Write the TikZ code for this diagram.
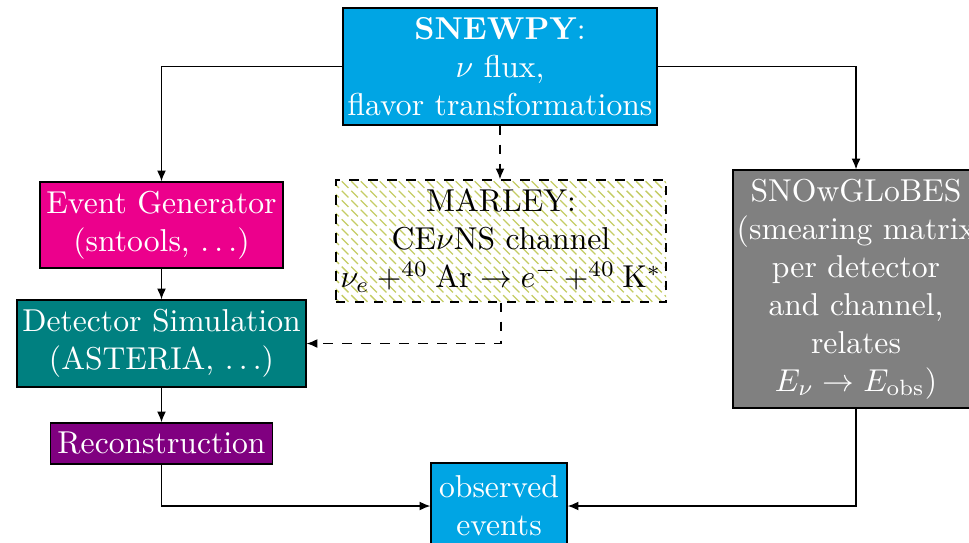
\documentclass[tikz,border=0pt]{standalone}
\usetikzlibrary{patterns,arrows.meta}
\definecolor{snecyan}{RGB}{0,165,228}
\definecolor{evmag}{RGB}{236,0,140}
\definecolor{dsteal}{RGB}{0,128,128}
\definecolor{recopurp}{RGB}{128,0,128}
\definecolor{snowgray}{RGB}{128,128,128}
\definecolor{hatchcol}{RGB}{196,204,100}
\begin{document}
\begin{tikzpicture}[x=0.316pt,y=-0.316pt,
  box/.style={draw=black,line width=0.4pt,text=white,align=center,inner sep=0pt},
  conn/.style={line width=0.4pt,-{Latex[length=3.4pt,width=2.8pt]}},
  dconn/.style={conn,dashed}]
\clip (0,0) rectangle (969,542);
\useasboundingbox (0,0) rectangle (969,542);
\node[box,fill=snecyan,minimum width=99.2pt,minimum height=37pt] (snewpy) at (500,66.5)
  {\textbf{SNEWPY}:\\$\nu$ flux,\\flavor transformations};
\node[box,fill=evmag,minimum width=76.8pt,minimum height=27.2pt] (evgen) at (161.5,225)
  {Event Generator\\(sntools, $\ldots$)};
\node[box,text=black,draw=black,dashed,pattern=north west lines,pattern color=hatchcol,
  minimum width=104.3pt,minimum height=38.6pt] (marley) at (501,241)
  {MARLEY:\\CE$\nu$NS channel\\$\nu_e + ^{40}\mathrm{Ar} \rightarrow e^- + ^{40}\mathrm{K}^*$};
\node[box,fill=dsteal,minimum width=91.3pt,minimum height=27.5pt] (detsim) at (161.5,343.5)
  {Detector Simulation\\(ASTERIA, $\ldots$)};
\node[box,fill=recopurp,minimum width=70.2pt,minimum height=13pt] (reco) at (161.5,443.5)
  {Reconstruction};
\node[box,fill=snowgray,minimum width=77.7pt,minimum height=75.2pt] (snow) at (856,289)
  {SNOwGLoBES\\(smearing matrix\\per detector\\and channel,\\relates\\$E_\nu \rightarrow E_{\mathrm{obs}}$)};
\node[box,fill=snecyan,minimum width=43pt,minimum height=27.2pt] (obs) at (499,506)
  {observed\\events};
\draw[conn] (snewpy.west) -| (evgen.north);
\draw[conn] (snewpy.east) -| (snow.north);
\draw[dconn] (snewpy.south) -- (snewpy.south |- marley.north);
\draw[conn] (evgen.south) -- (detsim.north);
\draw[conn] (detsim.south) -- (reco.north);
\draw[dconn] (marley.south) |- (detsim.east);
\draw[conn] (reco.south) |- (obs.west);
\draw[conn] (snow.south) |- (obs.east);
\end{tikzpicture}
\end{document}
